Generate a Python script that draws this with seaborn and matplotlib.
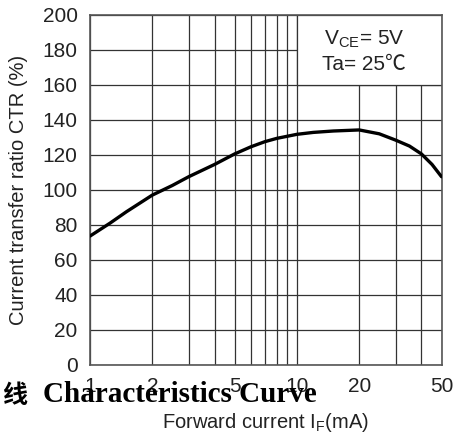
import matplotlib
matplotlib.use('Agg')
import matplotlib.pyplot as plt
from matplotlib.patches import Rectangle
import pandas as pd
import seaborn as sns

# CTR vs forward current
forward_ma = [1, 1.25, 1.5, 2, 2.5, 3, 4, 5, 6, 7, 8, 10, 12, 15, 20, 25, 30, 35, 40, 45, 50]
ctr_pct = [73.6, 81, 87.5, 97, 102.5, 107.5, 114.5, 120.5, 124.6, 127.5, 129.4, 131.7,
           132.8, 133.6, 134.2, 132, 128.4, 125, 120.5, 114.5, 107.5]

major_x = [1, 2, 5, 10, 20, 50]
minor_x = [3, 4, 6, 7, 8, 9, 30, 40]
y_ticks = list(range(0, 201, 20))

sns.set_theme(style='white')
plt.rcParams['font.family'] = ['Liberation Sans', 'DejaVu Sans']

fig = plt.figure(figsize=(4.54, 4.34), dpi=100)
ax = fig.add_axes([90 / 454, (434 - 365) / 434, (441.5 - 90) / 454, (365 - 14.7) / 434])

df = pd.DataFrame({'IF': forward_ma, 'CTR': ctr_pct})
sns.lineplot(data=df, x='IF', y='CTR', ax=ax, color='black', linewidth=2.4, zorder=3)

ax.set_xscale('log')
ax.set_xlim(1, 50)
ax.set_ylim(0, 200)
ax.set_xticks(major_x)
ax.set_xticklabels([str(v) for v in major_x])
ax.set_xticks(minor_x, minor=True)
ax.set_xticklabels([], minor=True)
ax.set_yticks(y_ticks)
ax.tick_params(axis='both', which='both', length=0, labelsize=15, colors='#222222')
ax.tick_params(axis='x', pad=9)
ax.tick_params(axis='y', pad=9)

ax.grid(True, which='both', color='#333333', linewidth=0.9)
ax.set_axisbelow(True)
for s in ax.spines.values():
    s.set_color('#555555')
    s.set_linewidth(1.2)

# condition box in the upper right corner
ax.add_patch(Rectangle((10, 160), 40, 40, facecolor='white', edgecolor='#333333',
                       linewidth=0.9, zorder=2))
ax.text(0.78, 0.931, r'V$_{\mathregular{CE}}$= 5V', transform=ax.transAxes,
        ha='center', va='center', fontsize=15, color='#222222', zorder=4)
ax.text(0.78, 0.859, 'Ta= 25\u2103', transform=ax.transAxes,
        ha='center', va='center', fontsize=15, color='#222222', zorder=4,
        family=['Liberation Sans', 'Noto Sans CJK SC', 'DejaVu Sans'])

ax.set_ylabel('Current transfer ratio CTR (%)', fontsize=14.5, color='#222222')
ax.yaxis.set_label_coords(-0.176, 0.5)
ax.set_xlabel(r'Forward current I$_{\mathregular{F}}$(mA)', fontsize=14.5, color='#222222')
ax.xaxis.set_label_coords(0.498, -0.131)

# caption that overlaps the x tick labels, as in the source image
fig.text(0.004, 0.088, '\u7ebf', fontsize=18, fontweight='bold',
         color='black', va='center', ha='left', family=['Noto Sans CJK SC'])
fig.text(0.094, 0.09, 'Characteristics Curve', fontsize=21, fontweight='bold',
         color='black', va='center', ha='left', family=['Liberation Serif'])

fig.savefig('out.png', dpi=100)
